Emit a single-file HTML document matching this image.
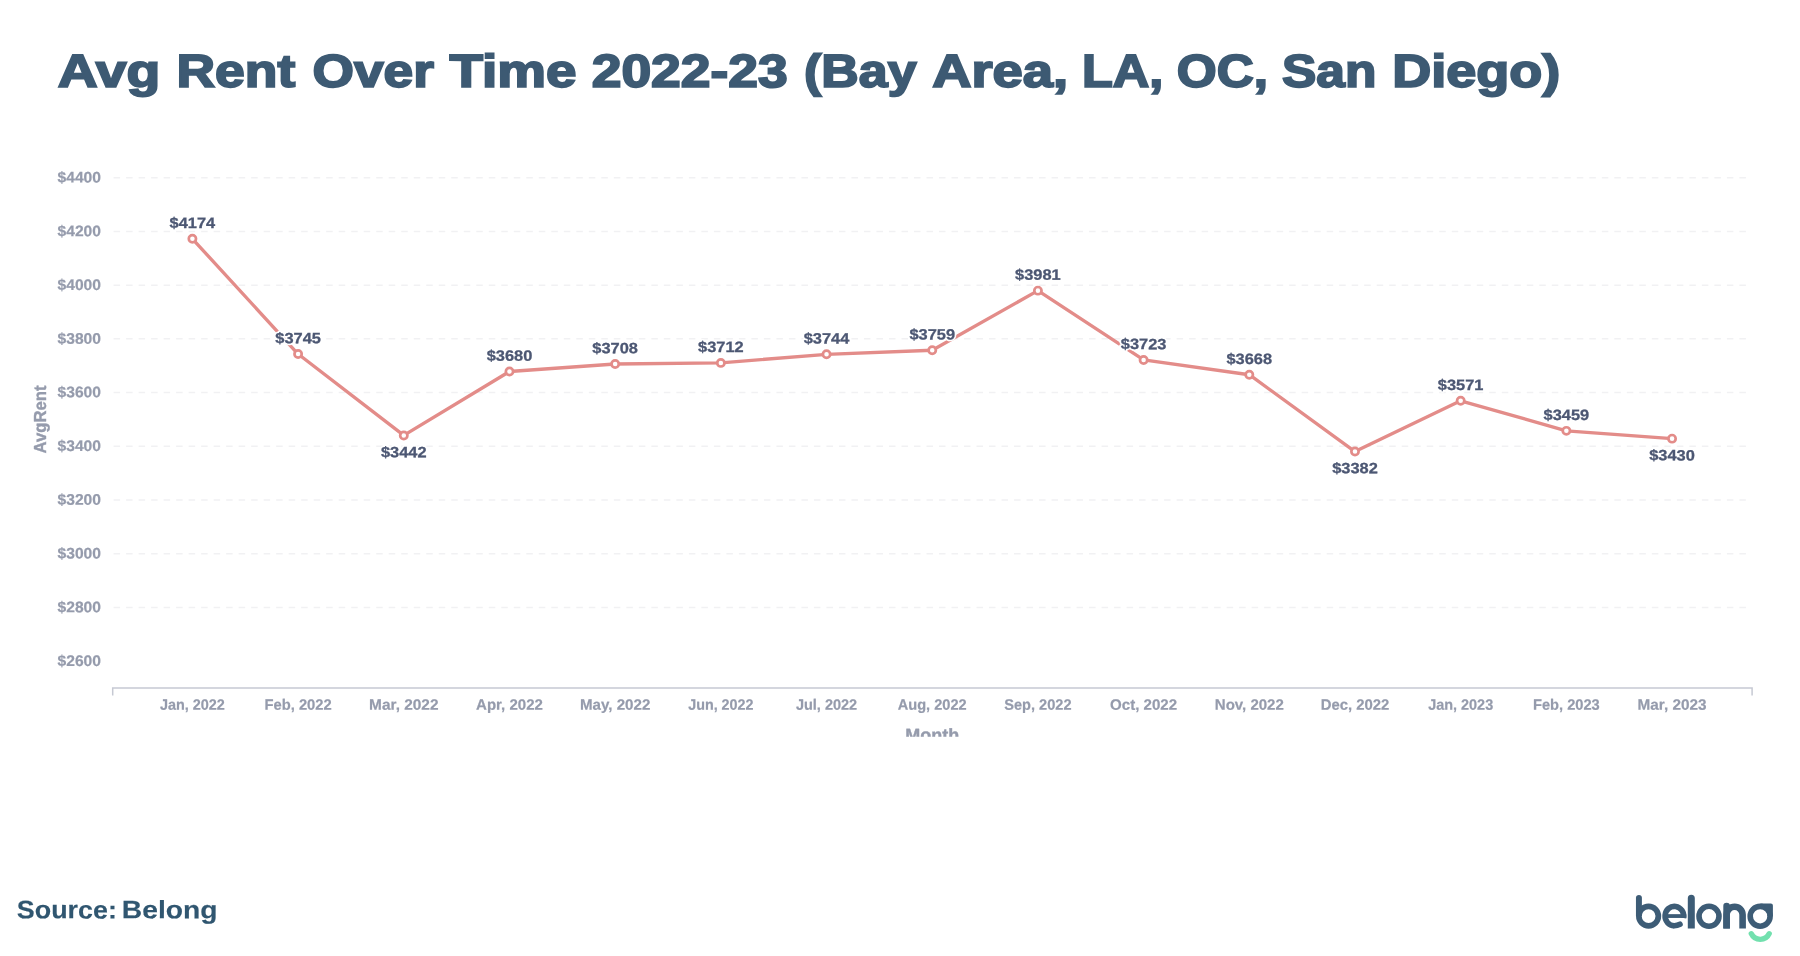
<!DOCTYPE html>
<html lang="en"><head><meta charset="utf-8"><title>Avg Rent Over Time 2022-23</title>
<style>html,body{margin:0;padding:0;background:#fff;width:1800px;height:956px;overflow:hidden}svg{display:block;will-change:transform;transform:translateZ(0)}text{font-family:"Liberation Sans", sans-serif;text-rendering:geometricPrecision}</style>
</head><body>
<svg width="1800" height="956" viewBox="0 0 1800 956" font-family='"Liberation Sans", sans-serif'>
<rect width="1800" height="956" fill="#fff"/>
<g id="title" stroke="#3d5a73" stroke-width="1.9" stroke-linejoin="miter">
<text x="57.88" y="86.80" font-size="46.1" fill="#3d5a73" text-anchor="start" font-weight="bold" textLength="102.32" lengthAdjust="spacingAndGlyphs" transform="rotate(0.03 57.9 86.8)">Avg</text>
<text x="176.48" y="86.80" font-size="46.1" fill="#3d5a73" text-anchor="start" font-weight="bold" textLength="118.76" lengthAdjust="spacingAndGlyphs" transform="rotate(0.03 176.5 86.8)">Rent</text>
<text x="312.60" y="86.80" font-size="46.1" fill="#3d5a73" text-anchor="start" font-weight="bold" textLength="121.34" lengthAdjust="spacingAndGlyphs" transform="rotate(0.03 312.6 86.8)">Over</text>
<text x="449.53" y="86.80" font-size="46.1" fill="#3d5a73" text-anchor="start" font-weight="bold" textLength="126.89" lengthAdjust="spacingAndGlyphs" transform="rotate(0.03 449.5 86.8)">Time</text>
<text x="591.71" y="86.80" font-size="46.1" fill="#3d5a73" text-anchor="start" font-weight="bold" textLength="195.91" lengthAdjust="spacingAndGlyphs" transform="rotate(0.03 591.7 86.8)">2022-23</text>
<text x="804.09" y="86.80" font-size="46.1" fill="#3d5a73" text-anchor="start" font-weight="bold" textLength="112.41" lengthAdjust="spacingAndGlyphs" transform="rotate(0.03 804.1 86.8)">(Bay</text>
<text x="932.26" y="86.80" font-size="46.1" fill="#3d5a73" text-anchor="start" font-weight="bold" textLength="135.90" lengthAdjust="spacingAndGlyphs" transform="rotate(0.03 932.3 86.8)">Area,</text>
<text x="1081.99" y="86.80" font-size="46.1" fill="#3d5a73" text-anchor="start" font-weight="bold" textLength="81.42" lengthAdjust="spacingAndGlyphs" transform="rotate(0.03 1082.0 86.8)">LA,</text>
<text x="1176.80" y="86.80" font-size="46.1" fill="#3d5a73" text-anchor="start" font-weight="bold" textLength="91.25" lengthAdjust="spacingAndGlyphs" transform="rotate(0.03 1176.8 86.8)">OC,</text>
<text x="1282.03" y="86.80" font-size="46.1" fill="#3d5a73" text-anchor="start" font-weight="bold" textLength="94.37" lengthAdjust="spacingAndGlyphs" transform="rotate(0.03 1282.0 86.8)">San</text>
<text x="1392.23" y="86.80" font-size="46.1" fill="#3d5a73" text-anchor="start" font-weight="bold" textLength="168.09" lengthAdjust="spacingAndGlyphs" transform="rotate(0.03 1392.2 86.8)">Diego)</text>
</g>
<g id="grid" stroke="#f1f1f3" stroke-width="1.5" stroke-dasharray="6.5 6.006" fill="none">
<path d="M113.6 177.70H1746.6"/>
<path d="M113.6 231.42H1746.6"/>
<path d="M113.6 285.14H1746.6"/>
<path d="M113.6 338.86H1746.6"/>
<path d="M113.6 392.58H1746.6"/>
<path d="M113.6 446.30H1746.6"/>
<path d="M113.6 500.02H1746.6"/>
<path d="M113.6 553.74H1746.6"/>
<path d="M113.6 607.46H1746.6"/>
</g>
<g id="yticks" stroke="#959bac" stroke-width="0.22">
<text x="100.95" y="182.50" font-size="15.3" fill="#959bac" text-anchor="end" font-weight="bold" textLength="43.40" lengthAdjust="spacingAndGlyphs" transform="rotate(0.03 101.0 182.5)">$4400</text>
<text x="100.95" y="236.22" font-size="15.3" fill="#959bac" text-anchor="end" font-weight="bold" textLength="43.40" lengthAdjust="spacingAndGlyphs" transform="rotate(0.03 101.0 236.2)">$4200</text>
<text x="100.95" y="289.94" font-size="15.3" fill="#959bac" text-anchor="end" font-weight="bold" textLength="43.40" lengthAdjust="spacingAndGlyphs" transform="rotate(0.03 101.0 289.9)">$4000</text>
<text x="100.95" y="343.66" font-size="15.3" fill="#959bac" text-anchor="end" font-weight="bold" textLength="43.40" lengthAdjust="spacingAndGlyphs" transform="rotate(0.03 101.0 343.7)">$3800</text>
<text x="100.95" y="397.38" font-size="15.3" fill="#959bac" text-anchor="end" font-weight="bold" textLength="43.40" lengthAdjust="spacingAndGlyphs" transform="rotate(0.03 101.0 397.4)">$3600</text>
<text x="100.95" y="451.10" font-size="15.3" fill="#959bac" text-anchor="end" font-weight="bold" textLength="43.40" lengthAdjust="spacingAndGlyphs" transform="rotate(0.03 101.0 451.1)">$3400</text>
<text x="100.95" y="504.82" font-size="15.3" fill="#959bac" text-anchor="end" font-weight="bold" textLength="43.40" lengthAdjust="spacingAndGlyphs" transform="rotate(0.03 101.0 504.8)">$3200</text>
<text x="100.95" y="558.54" font-size="15.3" fill="#959bac" text-anchor="end" font-weight="bold" textLength="43.40" lengthAdjust="spacingAndGlyphs" transform="rotate(0.03 101.0 558.5)">$3000</text>
<text x="100.95" y="612.26" font-size="15.3" fill="#959bac" text-anchor="end" font-weight="bold" textLength="43.40" lengthAdjust="spacingAndGlyphs" transform="rotate(0.03 101.0 612.3)">$2800</text>
<text x="100.95" y="665.98" font-size="15.3" fill="#959bac" text-anchor="end" font-weight="bold" textLength="43.40" lengthAdjust="spacingAndGlyphs" transform="rotate(0.03 101.0 666.0)">$2600</text>
</g>
<text transform="translate(46.2 419.4) rotate(-90)" font-size="17.4" font-weight="bold" fill="#959bac" stroke="#959bac" stroke-width="0.4" text-anchor="middle" textLength="68.0" lengthAdjust="spacingAndGlyphs">AvgRent</text>
<path d="M112.7 695.4V688.1H1752.1V695.4" fill="none" stroke="#c6c9d3" stroke-width="1.5"/>
<g id="xticks" stroke="#959bac" stroke-width="0.22">
<text x="192.40" y="709.70" font-size="15.1" fill="#959bac" text-anchor="middle" font-weight="bold" textLength="65.00" lengthAdjust="spacingAndGlyphs" transform="rotate(0.03 192.4 709.7)">Jan, 2022</text>
<text x="298.09" y="709.70" font-size="15.1" fill="#959bac" text-anchor="middle" font-weight="bold" textLength="67.20" lengthAdjust="spacingAndGlyphs" transform="rotate(0.03 298.1 709.7)">Feb, 2022</text>
<text x="403.78" y="709.70" font-size="15.1" fill="#959bac" text-anchor="middle" font-weight="bold" textLength="69.40" lengthAdjust="spacingAndGlyphs" transform="rotate(0.03 403.8 709.7)">Mar, 2022</text>
<text x="509.47" y="709.70" font-size="15.1" fill="#959bac" text-anchor="middle" font-weight="bold" textLength="66.80" lengthAdjust="spacingAndGlyphs" transform="rotate(0.03 509.5 709.7)">Apr, 2022</text>
<text x="615.16" y="709.70" font-size="15.1" fill="#959bac" text-anchor="middle" font-weight="bold" textLength="70.30" lengthAdjust="spacingAndGlyphs" transform="rotate(0.03 615.2 709.7)">May, 2022</text>
<text x="720.85" y="709.70" font-size="15.1" fill="#959bac" text-anchor="middle" font-weight="bold" textLength="65.30" lengthAdjust="spacingAndGlyphs" transform="rotate(0.03 720.9 709.7)">Jun, 2022</text>
<text x="826.54" y="709.70" font-size="15.1" fill="#959bac" text-anchor="middle" font-weight="bold" textLength="61.30" lengthAdjust="spacingAndGlyphs" transform="rotate(0.03 826.5 709.7)">Jul, 2022</text>
<text x="932.23" y="709.70" font-size="15.1" fill="#959bac" text-anchor="middle" font-weight="bold" textLength="68.90" lengthAdjust="spacingAndGlyphs" transform="rotate(0.03 932.2 709.7)">Aug, 2022</text>
<text x="1037.92" y="709.70" font-size="15.1" fill="#959bac" text-anchor="middle" font-weight="bold" textLength="67.20" lengthAdjust="spacingAndGlyphs" transform="rotate(0.03 1037.9 709.7)">Sep, 2022</text>
<text x="1143.61" y="709.70" font-size="15.1" fill="#959bac" text-anchor="middle" font-weight="bold" textLength="67.10" lengthAdjust="spacingAndGlyphs" transform="rotate(0.03 1143.6 709.7)">Oct, 2022</text>
<text x="1249.30" y="709.70" font-size="15.1" fill="#959bac" text-anchor="middle" font-weight="bold" textLength="69.00" lengthAdjust="spacingAndGlyphs" transform="rotate(0.03 1249.3 709.7)">Nov, 2022</text>
<text x="1354.99" y="709.70" font-size="15.1" fill="#959bac" text-anchor="middle" font-weight="bold" textLength="68.60" lengthAdjust="spacingAndGlyphs" transform="rotate(0.03 1355.0 709.7)">Dec, 2022</text>
<text x="1460.68" y="709.70" font-size="15.1" fill="#959bac" text-anchor="middle" font-weight="bold" textLength="65.00" lengthAdjust="spacingAndGlyphs" transform="rotate(0.03 1460.7 709.7)">Jan, 2023</text>
<text x="1566.37" y="709.70" font-size="15.1" fill="#959bac" text-anchor="middle" font-weight="bold" textLength="66.80" lengthAdjust="spacingAndGlyphs" transform="rotate(0.03 1566.4 709.7)">Feb, 2023</text>
<text x="1672.06" y="709.70" font-size="15.1" fill="#959bac" text-anchor="middle" font-weight="bold" textLength="69.00" lengthAdjust="spacingAndGlyphs" transform="rotate(0.03 1672.1 709.7)">Mar, 2023</text>
</g>
<clipPath id="cm"><rect x="800" y="700" width="300" height="36.7"/></clipPath>
<text clip-path="url(#cm)" x="932.2" y="741.3" font-size="17.7" font-weight="bold" fill="#959bac" stroke="#959bac" stroke-width="0.4" text-anchor="middle" textLength="54" lengthAdjust="spacingAndGlyphs">Month</text>
<polyline points="192.40,238.80 298.09,354.03 403.78,435.42 509.47,371.49 615.16,363.97 720.85,362.90 826.54,354.30 932.23,350.27 1037.92,290.64 1143.61,359.94 1249.30,374.72 1354.99,451.53 1460.68,400.77 1566.37,430.85 1672.06,438.64" fill="none" stroke="#e38c89" stroke-width="3.35" stroke-linejoin="round" stroke-linecap="round"/>
<g id="halo" fill="#fff" stroke="#fff" stroke-width="3.4" stroke-linejoin="round">
<text x="192.40" y="228.00" font-size="15.0" fill="#fff" text-anchor="middle" font-weight="bold" textLength="45.60" lengthAdjust="spacingAndGlyphs" transform="rotate(0.03 192.4 228.0)">$4174</text>
<text x="298.09" y="343.23" font-size="15.0" fill="#fff" text-anchor="middle" font-weight="bold" textLength="45.60" lengthAdjust="spacingAndGlyphs" transform="rotate(0.03 298.1 343.2)">$3745</text>
<text x="403.78" y="457.17" font-size="15.0" fill="#fff" text-anchor="middle" font-weight="bold" textLength="45.60" lengthAdjust="spacingAndGlyphs" transform="rotate(0.03 403.8 457.2)">$3442</text>
<text x="509.47" y="360.69" font-size="15.0" fill="#fff" text-anchor="middle" font-weight="bold" textLength="45.60" lengthAdjust="spacingAndGlyphs" transform="rotate(0.03 509.5 360.7)">$3680</text>
<text x="615.16" y="353.17" font-size="15.0" fill="#fff" text-anchor="middle" font-weight="bold" textLength="45.60" lengthAdjust="spacingAndGlyphs" transform="rotate(0.03 615.2 353.2)">$3708</text>
<text x="720.85" y="352.10" font-size="15.0" fill="#fff" text-anchor="middle" font-weight="bold" textLength="45.60" lengthAdjust="spacingAndGlyphs" transform="rotate(0.03 720.9 352.1)">$3712</text>
<text x="826.54" y="343.50" font-size="15.0" fill="#fff" text-anchor="middle" font-weight="bold" textLength="45.60" lengthAdjust="spacingAndGlyphs" transform="rotate(0.03 826.5 343.5)">$3744</text>
<text x="932.23" y="339.47" font-size="15.0" fill="#fff" text-anchor="middle" font-weight="bold" textLength="45.60" lengthAdjust="spacingAndGlyphs" transform="rotate(0.03 932.2 339.5)">$3759</text>
<text x="1037.92" y="279.84" font-size="15.0" fill="#fff" text-anchor="middle" font-weight="bold" textLength="45.60" lengthAdjust="spacingAndGlyphs" transform="rotate(0.03 1037.9 279.8)">$3981</text>
<text x="1143.61" y="349.14" font-size="15.0" fill="#fff" text-anchor="middle" font-weight="bold" textLength="45.60" lengthAdjust="spacingAndGlyphs" transform="rotate(0.03 1143.6 349.1)">$3723</text>
<text x="1249.30" y="363.92" font-size="15.0" fill="#fff" text-anchor="middle" font-weight="bold" textLength="45.60" lengthAdjust="spacingAndGlyphs" transform="rotate(0.03 1249.3 363.9)">$3668</text>
<text x="1354.99" y="473.28" font-size="15.0" fill="#fff" text-anchor="middle" font-weight="bold" textLength="45.60" lengthAdjust="spacingAndGlyphs" transform="rotate(0.03 1355.0 473.3)">$3382</text>
<text x="1460.68" y="389.97" font-size="15.0" fill="#fff" text-anchor="middle" font-weight="bold" textLength="45.60" lengthAdjust="spacingAndGlyphs" transform="rotate(0.03 1460.7 390.0)">$3571</text>
<text x="1566.37" y="420.05" font-size="15.0" fill="#fff" text-anchor="middle" font-weight="bold" textLength="45.60" lengthAdjust="spacingAndGlyphs" transform="rotate(0.03 1566.4 420.1)">$3459</text>
<text x="1672.06" y="460.39" font-size="15.0" fill="#fff" text-anchor="middle" font-weight="bold" textLength="45.60" lengthAdjust="spacingAndGlyphs" transform="rotate(0.03 1672.1 460.4)">$3430</text>
</g>
<g id="labels" stroke="#4c5773" stroke-width="0.3">
<text x="192.40" y="228.00" font-size="15.0" fill="#4c5773" text-anchor="middle" font-weight="bold" textLength="45.60" lengthAdjust="spacingAndGlyphs" transform="rotate(0.03 192.4 228.0)">$4174</text>
<text x="298.09" y="343.23" font-size="15.0" fill="#4c5773" text-anchor="middle" font-weight="bold" textLength="45.60" lengthAdjust="spacingAndGlyphs" transform="rotate(0.03 298.1 343.2)">$3745</text>
<text x="403.78" y="457.17" font-size="15.0" fill="#4c5773" text-anchor="middle" font-weight="bold" textLength="45.60" lengthAdjust="spacingAndGlyphs" transform="rotate(0.03 403.8 457.2)">$3442</text>
<text x="509.47" y="360.69" font-size="15.0" fill="#4c5773" text-anchor="middle" font-weight="bold" textLength="45.60" lengthAdjust="spacingAndGlyphs" transform="rotate(0.03 509.5 360.7)">$3680</text>
<text x="615.16" y="353.17" font-size="15.0" fill="#4c5773" text-anchor="middle" font-weight="bold" textLength="45.60" lengthAdjust="spacingAndGlyphs" transform="rotate(0.03 615.2 353.2)">$3708</text>
<text x="720.85" y="352.10" font-size="15.0" fill="#4c5773" text-anchor="middle" font-weight="bold" textLength="45.60" lengthAdjust="spacingAndGlyphs" transform="rotate(0.03 720.9 352.1)">$3712</text>
<text x="826.54" y="343.50" font-size="15.0" fill="#4c5773" text-anchor="middle" font-weight="bold" textLength="45.60" lengthAdjust="spacingAndGlyphs" transform="rotate(0.03 826.5 343.5)">$3744</text>
<text x="932.23" y="339.47" font-size="15.0" fill="#4c5773" text-anchor="middle" font-weight="bold" textLength="45.60" lengthAdjust="spacingAndGlyphs" transform="rotate(0.03 932.2 339.5)">$3759</text>
<text x="1037.92" y="279.84" font-size="15.0" fill="#4c5773" text-anchor="middle" font-weight="bold" textLength="45.60" lengthAdjust="spacingAndGlyphs" transform="rotate(0.03 1037.9 279.8)">$3981</text>
<text x="1143.61" y="349.14" font-size="15.0" fill="#4c5773" text-anchor="middle" font-weight="bold" textLength="45.60" lengthAdjust="spacingAndGlyphs" transform="rotate(0.03 1143.6 349.1)">$3723</text>
<text x="1249.30" y="363.92" font-size="15.0" fill="#4c5773" text-anchor="middle" font-weight="bold" textLength="45.60" lengthAdjust="spacingAndGlyphs" transform="rotate(0.03 1249.3 363.9)">$3668</text>
<text x="1354.99" y="473.28" font-size="15.0" fill="#4c5773" text-anchor="middle" font-weight="bold" textLength="45.60" lengthAdjust="spacingAndGlyphs" transform="rotate(0.03 1355.0 473.3)">$3382</text>
<text x="1460.68" y="389.97" font-size="15.0" fill="#4c5773" text-anchor="middle" font-weight="bold" textLength="45.60" lengthAdjust="spacingAndGlyphs" transform="rotate(0.03 1460.7 390.0)">$3571</text>
<text x="1566.37" y="420.05" font-size="15.0" fill="#4c5773" text-anchor="middle" font-weight="bold" textLength="45.60" lengthAdjust="spacingAndGlyphs" transform="rotate(0.03 1566.4 420.1)">$3459</text>
<text x="1672.06" y="460.39" font-size="15.0" fill="#4c5773" text-anchor="middle" font-weight="bold" textLength="45.60" lengthAdjust="spacingAndGlyphs" transform="rotate(0.03 1672.1 460.4)">$3430</text>
</g>
<g id="dots" fill="#fff" stroke="#e38c89" stroke-width="2.7">
<circle cx="192.40" cy="238.80" r="3.62"/>
<circle cx="298.09" cy="354.03" r="3.62"/>
<circle cx="403.78" cy="435.42" r="3.62"/>
<circle cx="509.47" cy="371.49" r="3.62"/>
<circle cx="615.16" cy="363.97" r="3.62"/>
<circle cx="720.85" cy="362.90" r="3.62"/>
<circle cx="826.54" cy="354.30" r="3.62"/>
<circle cx="932.23" cy="350.27" r="3.62"/>
<circle cx="1037.92" cy="290.64" r="3.62"/>
<circle cx="1143.61" cy="359.94" r="3.62"/>
<circle cx="1249.30" cy="374.72" r="3.62"/>
<circle cx="1354.99" cy="451.53" r="3.62"/>
<circle cx="1460.68" cy="400.77" r="3.62"/>
<circle cx="1566.37" cy="430.85" r="3.62"/>
<circle cx="1672.06" cy="438.64" r="3.62"/>
</g>
<g id="src" stroke="#305670" stroke-width="0.15">
<text x="16.85" y="918.35" font-size="25.2" fill="#305670" text-anchor="start" font-weight="bold" textLength="100.02" lengthAdjust="spacingAndGlyphs" transform="rotate(0.03 16.9 918.4)">Source:</text>
<text x="121.84" y="918.35" font-size="25.2" fill="#305670" text-anchor="start" font-weight="bold" textLength="95.66" lengthAdjust="spacingAndGlyphs" transform="rotate(0.03 121.8 918.4)">Belong</text>
</g>
<g id="logo" fill="none" stroke="#3d5c76" stroke-linecap="butt">
<!-- b -->
<path d="M1635.95 916.1V897.7A2.98 2.98 0 0 1 1641.9 897.7V916.1Z" fill="#3d5c76" stroke="none"/>
<circle cx="1648.6" cy="916.1" r="9.75" stroke-width="5.7"/>
<!-- e -->
<path d="M1683.5 917.95A9.3 9.7 0 1 0 1674.2 925.75" stroke-width="5.6"/>
<path d="M1674.2 925.75A11.0 9.7 0 0 0 1680.0 924.3" stroke-width="5.6" stroke-linecap="round"/>
<path d="M1667 916.05H1686.3" stroke-width="3.8"/>
<!-- l -->
<path d="M1687.8 928.4V898.3A3.5 3.5 0 0 1 1694.8 898.3V928.4Z" fill="#3d5c76" stroke="none"/>
<!-- o -->
<circle cx="1709" cy="916.3" r="9.98" stroke-width="5.6"/>
<!-- n -->
<path d="M1723.3 928.4V906.1A3.3 3.3 0 0 1 1729.9 906.1V928.4Z" fill="#3d5c76" stroke="none"/>
<path d="M1726.6 928.4V914.8A8 8 0 0 1 1742.6 914.8V928.4" stroke-width="6.6"/>
<!-- g -->
<circle cx="1760.15" cy="916.3" r="9.95" stroke-width="5.6"/>
<path d="M1760.15 903.55H1770.9A2 2 0 0 1 1772.9 905.55V916.3H1767.3V909.1Z" fill="#3d5c76" stroke="none"/>
</g>
<path d="M1751.3 933.7A9.9 9.9 0 0 0 1769.2 933.7" fill="none" stroke="#72e0ae" stroke-width="5.4" stroke-linecap="round"/>

</svg>
</body></html>
